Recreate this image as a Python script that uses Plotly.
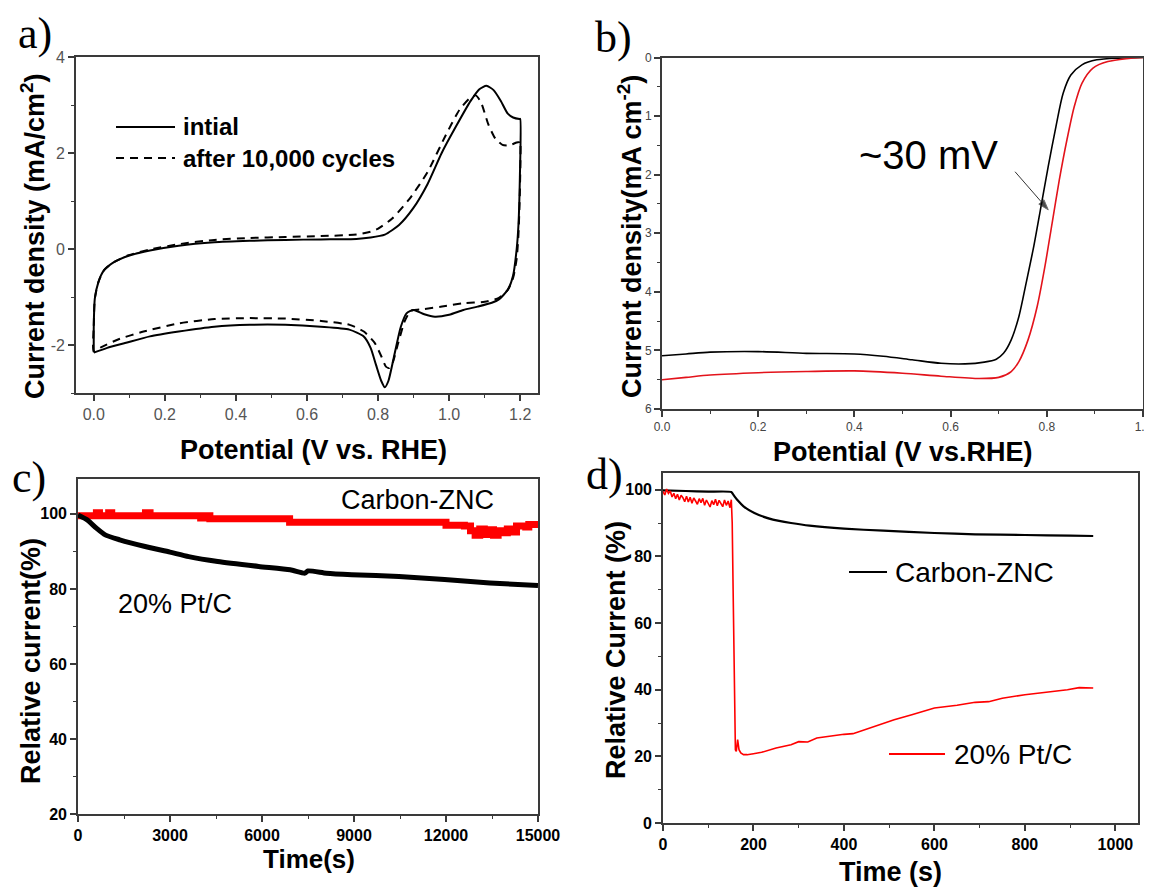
import plotly.graph_objects as go

# ---------------- data ----------------
# panel a: cyclic voltammetry
cv_init_x = [0.0, 0.0, 0.003, 0.013, 0.028, 0.058, 0.098, 0.158, 0.239, 0.339, 0.439, 0.539, 0.639, 0.739,
             0.779, 0.819, 0.859, 0.899, 0.939, 0.979, 1.019, 1.06, 1.085, 1.105, 1.125, 1.145, 1.165, 1.18,
             1.198, 1.2, 1.199, 1.195, 1.19, 1.18, 1.165, 1.14, 1.12, 1.08, 1.04, 1.0, 0.96, 0.93, 0.90, 0.88,
             0.864, 0.844, 0.829, 0.819, 0.809, 0.794, 0.779, 0.759, 0.719, 0.639, 0.539, 0.439, 0.339, 0.239,
             0.158, 0.088, 0.038, 0.0]
cv_init_y = [-2.15, -1.6, -1.03, -0.69, -0.45, -0.27, -0.14, -0.03, 0.07, 0.14, 0.17, 0.19, 0.2, 0.21,
             0.24, 0.3, 0.5, 0.85, 1.35, 2.0, 2.55, 3.08, 3.33, 3.4, 3.31, 3.09, 2.82, 2.74,
             2.71, 2.71, 1.5, 0.5, 0.0, -0.55, -0.85, -1.05, -1.12, -1.2, -1.27, -1.37, -1.41, -1.36, -1.27, -1.34,
             -1.62, -2.27, -2.75, -2.88, -2.75, -2.41, -2.06, -1.82, -1.68, -1.62, -1.58, -1.58, -1.62, -1.72,
             -1.82, -1.96, -2.06, -2.16]
cv_aft_x = [0.0, 0.0, 0.003, 0.013, 0.028, 0.058, 0.098, 0.158, 0.239, 0.339, 0.439, 0.539, 0.639, 0.739,
            0.779, 0.799, 0.839, 0.889, 0.939, 0.989, 1.029, 1.059, 1.075, 1.09, 1.11, 1.13, 1.15, 1.17, 1.19,
            1.198, 1.2, 1.199, 1.195, 1.19, 1.18, 1.165, 1.14, 1.1, 1.04, 0.98, 0.93, 0.90, 0.89, 0.875, 0.855,
            0.842, 0.832, 0.822, 0.81, 0.79, 0.76, 0.72, 0.64, 0.54, 0.44, 0.34, 0.24, 0.14, 0.07, 0.02, 0.0]
cv_aft_y = [-2.13, -1.6, -1.03, -0.69, -0.45, -0.27, -0.13, -0.01, 0.1, 0.19, 0.23, 0.25, 0.27, 0.3,
            0.36, 0.42, 0.63, 1.05, 1.6, 2.35, 2.9, 3.15, 3.2, 3.05, 2.6, 2.3, 2.17, 2.16, 2.22,
            2.23, 2.25, 1.2, 0.3, -0.2, -0.6, -0.85, -1.02, -1.1, -1.13, -1.2, -1.25, -1.27, -1.3, -1.5, -2.0,
            -2.35, -2.48, -2.45, -2.25, -1.95, -1.72, -1.58, -1.5, -1.45, -1.44, -1.46, -1.55, -1.72, -1.88,
            -2.05, -2.13]
cv_ytick_vals = [-2, 0, 2, 4]
cv_ytick_text = ["-2", "0", "2", "4"]

# panel b: linear sweep voltammetry
lsv_black_x = [0.0, 0.05, 0.1, 0.2, 0.3, 0.4, 0.46, 0.52, 0.58, 0.63, 0.67, 0.695, 0.71, 0.726, 0.742,
               0.757, 0.773, 0.788, 0.803, 0.819, 0.834, 0.85, 0.873, 0.904, 0.95, 1.0]
lsv_black_y = [5.09, 5.06, 5.03, 5.02, 5.05, 5.06, 5.10, 5.16, 5.22, 5.23, 5.2, 5.15, 5.05, 4.82, 4.42,
               3.85, 3.22, 2.54, 1.86, 1.18, 0.61, 0.30, 0.125, 0.04, 0.01, 0.0]
lsv_red_x = [0.0, 0.05, 0.1, 0.2, 0.3, 0.4, 0.5, 0.58, 0.66, 0.70, 0.726, 0.742, 0.761, 0.78, 0.796,
             0.811, 0.826, 0.842, 0.857, 0.873, 0.896, 0.927, 0.965, 1.0]
lsv_red_y = [5.5, 5.46, 5.42, 5.38, 5.36, 5.35, 5.39, 5.44, 5.48, 5.46, 5.36, 5.19, 4.82, 4.25, 3.57,
             2.83, 2.09, 1.4, 0.84, 0.44, 0.18, 0.07, 0.02, 0.0]
# arrow of the "~30 mV" note (tail, head)
arrow_x = [0.734, 0.803]
arrow_y = [1.95, 2.6]

# panel c: long-term stability
c_pt_t = [0, 300, 600, 887, 1360, 2190, 3000, 3610, 4555, 5890, 6920, 7400, 7500, 8100, 8930, 10465,
          11950, 13430, 15000]
c_pt_y = [99.7, 98.4, 96.2, 94.4, 93.1, 91.3, 89.8, 88.6, 87.3, 86.0, 85.1, 84.2, 84.8, 84.2, 83.8,
          83.3, 82.5, 81.6, 80.9]
c_znc_t = [0, 600, 700, 1000, 1100, 2200, 2350, 4000, 4150, 4300, 6900, 12000, 12600, 12800, 12950,
           13100, 13250, 13400, 13550, 13700, 13850, 14000, 14150, 14300, 14600, 14700, 15000]
c_znc_y = [99.5, 100.3, 99.5, 100.3, 99.5, 100.3, 99.5, 98.9, 99.5, 98.7, 97.8, 97.0, 96.8, 95.5, 94.3,
           96.0, 94.5, 95.8, 94.3, 95.5, 95.0, 96.0, 95.2, 96.8, 96.5, 97.2, 96.9]

# panel d: methanol tolerance
d_znc_t = [0, 50, 100, 151, 157, 165, 178, 202, 243, 283, 324, 400, 487, 600, 690, 800, 900, 951]
d_znc_y = [99.8, 99.6, 99.4, 99.3, 98.2, 96.8, 95.0, 93.0, 91.0, 90.0, 89.2, 88.3, 87.7, 87.0, 86.6,
           86.4, 86.2, 86.1]
d_pt_t = [0, 4, 8, 12, 16, 20, 24, 28, 32, 36, 40, 44, 48, 52, 56, 60, 64, 68, 72, 76, 80, 84, 88, 92,
          96, 100, 104, 108, 112, 116, 120, 124, 128, 132, 136, 140, 144, 148, 151, 153, 155, 157, 158,
          160, 162, 165, 168, 172, 178, 186, 200, 218, 250, 283, 300, 320, 340, 365, 400, 420, 446, 480,
          511, 550, 600, 650, 690, 720, 750, 800, 850, 894, 920, 951]
d_pt_y = [99.5, 98.4, 100.2, 98.9, 99.6, 97.8, 98.9, 97.3, 98.6, 96.9, 98.3, 97.6, 96.4, 98.0, 96.3,
          97.7, 95.9, 97.5, 96.6, 95.6, 97.3, 96.1, 97.4, 95.3, 96.9, 96.0, 94.8, 96.7, 95.5, 97.1, 95.2,
          96.8, 95.8, 94.9, 96.9, 95.3, 96.6, 94.6, 97.0, 90.0, 70.0, 45.0, 30.0, 22.0, 21.5, 25.0, 22.0,
          21.0, 20.5, 20.5, 20.8, 21.2, 22.5, 23.5, 24.4, 24.3, 25.5, 26.0, 26.6, 26.8, 28.0, 29.5, 31.0,
          32.5, 34.5, 35.3, 36.2, 36.4, 37.4, 38.5, 39.2, 40.0, 40.6, 40.5]

# ---------------- figure ----------------
# page has an 8px body margin: the figure is placed at (8, 8) in the 1152x888 window
OFF = 8
W, H = 1144, 880
SANS = "Liberation Sans, Arial, sans-serif"
SERIF = "Liberation Serif, Times New Roman, serif"
AX = "#3a3a3a"


def fx(p):
    return (p - OFF) / W


def fy(p):
    return 1 - (p - OFF) / H


def px_x(a, b):
    return [fx(a), fx(b)]


def px_y(top, bottom):
    return [fy(bottom), fy(top)]


fig = go.Figure()

# panel a
fig.add_trace(go.Scatter(x=cv_init_x, y=cv_init_y, mode="lines", xaxis="x", yaxis="y",
                         line=dict(color="black", width=2, shape="spline", smoothing=0.6), showlegend=False))
fig.add_trace(go.Scatter(x=cv_aft_x, y=cv_aft_y, mode="lines", xaxis="x", yaxis="y",
                         line=dict(color="black", width=2, dash="8px,6px", shape="spline", smoothing=0.6),
                         showlegend=False))
# panel b
fig.add_trace(go.Scatter(x=lsv_black_x, y=lsv_black_y, mode="lines", xaxis="x2", yaxis="y2",
                         line=dict(color="black", width=1.6, shape="spline", smoothing=0.8), showlegend=False))
fig.add_trace(go.Scatter(x=lsv_red_x, y=lsv_red_y, mode="lines", xaxis="x2", yaxis="y2",
                         line=dict(color="#e3131b", width=1.6, shape="spline", smoothing=0.8), showlegend=False))
fig.add_trace(go.Scatter(x=arrow_x, y=arrow_y, mode="lines+markers", xaxis="x2", yaxis="y2",
                         line=dict(color="#333333", width=1),
                         marker=dict(symbol="arrow", size=[0, 11], angleref="previous", color="black"),
                         showlegend=False))
# panel c
fig.add_trace(go.Scatter(x=c_znc_t, y=c_znc_y, mode="lines", xaxis="x3", yaxis="y3",
                         line=dict(color="#ff0000", width=7, shape="hv"), showlegend=False))
fig.add_trace(go.Scatter(x=c_pt_t, y=c_pt_y, mode="lines", xaxis="x3", yaxis="y3",
                         line=dict(color="black", width=5, shape="spline", smoothing=0.6), showlegend=False))
# panel d
fig.add_trace(go.Scatter(x=d_znc_t, y=d_znc_y, mode="lines", xaxis="x4", yaxis="y4",
                         line=dict(color="black", width=2.2, shape="spline", smoothing=0.5), showlegend=False))
fig.add_trace(go.Scatter(x=d_pt_t, y=d_pt_y, mode="lines", xaxis="x4", yaxis="y4",
                         line=dict(color="#ff0000", width=1.6), showlegend=False))


def axis(domain, rng, dtick, minor_dtick, anchor, tickfont, **kw):
    d = dict(domain=domain, range=rng, dtick=dtick, anchor=anchor, automargin=False,
             showline=True, mirror=True, linecolor=AX, linewidth=1.6,
             ticks="outside", ticklen=6, tickwidth=1.6, tickcolor=AX,
             minor=dict(dtick=minor_dtick, ticks="outside", ticklen=3.5, tickwidth=1.4, tickcolor=AX),
             showgrid=False, zeroline=False, tickfont=tickfont,
             exponentformat="none", separatethousands=False)
    d.update(kw)
    return d


tf_a = dict(family=SANS, size=16, color="#555555")
tf_b = dict(family=SANS, size=12, color="#444444")
tf_cd = dict(family=SANS, size=16, color="black", weight="bold")

fig.update_layout(
    template="none",
    width=W, height=H, margin=dict(l=0, r=0, t=0, b=0, autoexpand=False),
    paper_bgcolor="white", plot_bgcolor="white",
    xaxis=axis(px_x(76, 538), [-0.05, 1.25], 0.2, 0.1, "y", tf_a, tickformat=".1f"),
    yaxis=axis(px_y(57, 393), [-3, 4], 2, 1, "x", tf_a, tickmode="array",
               tickvals=cv_ytick_vals, ticktext=cv_ytick_text,
               minor=dict(tickvals=[-3, -1, 1, 3], ticks="outside", ticklen=3.5, tickwidth=1.4, tickcolor=AX)),
    xaxis2=axis(px_x(662, 1143), [0, 1.0], 0.2, 0.1, "y2", tf_b, tickformat=".1f",
                ticklabeloverflow="allow"),
    yaxis2=axis(px_y(57.5, 409), [6, 0], 1, 0.5, "x2", tf_b),
    xaxis3=axis(px_x(78, 538), [0, 15000], 3000, 1500, "y3", tf_cd, tickformat="d"),
    yaxis3=axis(px_y(479, 814), [20, 109.3], 20, 10, "x3", tf_cd),
    xaxis4=axis(px_x(663, 1138), [0, 1050], 200, 100, "y4", tf_cd, tickformat="d"),
    yaxis4=axis(px_y(473, 823), [0, 105], 20, 10, "x4", tf_cd),
)

# legend-like samples
shapes = [
    dict(type="line", xref="x domain", yref="y domain", x0=0.0866, x1=0.2143, y0=0.7917, y1=0.7917,
         line=dict(color="black", width=2)),
    dict(type="line", xref="x domain", yref="y domain", x0=0.0866, x1=0.2143, y0=0.6994, y1=0.6994,
         line=dict(color="black", width=2, dash="8px,6px")),
    dict(type="line", xref="x4 domain", yref="y4 domain", x0=0.3916, x1=0.4716, y0=0.7171, y1=0.7171,
         line=dict(color="black", width=2)),
    dict(type="line", xref="x4 domain", yref="y4 domain", x0=0.4758, x1=0.5937, y0=0.1971, y1=0.1971,
         line=dict(color="#ff0000", width=2)),
]
fig.update_layout(shapes=shapes)

leg_font = dict(family=SANS, size=24, color="black", weight="bold")
lab_font = dict(family=SANS, size=27, color="black")
title_font = dict(family=SANS, size=27, color="black", weight="bold")
ann = [
    dict(xref="x domain", yref="y domain", x=0.2273, y=0.7917, text="intial", showarrow=False,
         xanchor="left", yanchor="middle", font=leg_font),
    dict(xref="x domain", yref="y domain", x=0.2273, y=0.6994, text="after 10,000 cycles", showarrow=False,
         xanchor="left", yanchor="middle", font=leg_font),
    dict(xref="x2", yref="y2", x=0.555, y=1.66, text="~30 mV", showarrow=False,
         xanchor="center", yanchor="middle", font=dict(family=SANS, size=40, color="black")),
    dict(xref="x3 domain", yref="y3 domain", x=0.737, y=0.9377, text="Carbon-ZNC", showarrow=False,
         xanchor="center", yanchor="middle", font=lab_font),
    dict(xref="x3 domain", yref="y3 domain", x=0.211, y=0.626, text="20% Pt/C", showarrow=False,
         xanchor="center", yanchor="middle", font=lab_font),
    dict(xref="x4 domain", yref="y4 domain", x=0.4842, y=0.7171, text="Carbon-ZNC", showarrow=False,
         xanchor="left", yanchor="middle", font=dict(family=SANS, size=28, color="black")),
    dict(xref="x4 domain", yref="y4 domain", x=0.6084, y=0.1971, text="20% Pt/C", showarrow=False,
         xanchor="left", yanchor="middle", font=dict(family=SANS, size=28, color="black")),
]

# axis titles (page pixel centres)
axis_titles = [
    ("Potential (V vs. RHE)", 313, 450, 0, 27),
    ("Current density (mA/cm<sup>2</sup>)", 33, 236, -90, 27),
    ("Potential (V vs.RHE)", 903, 452, 0, 27),
    ("Current density(mA cm<sup>-2</sup>)", 630, 237, -90, 27),
    ("Time(s)", 309, 859, 0, 26),
    ("Relative current(%)", 31, 661, -90, 27),
    ("Time (s)", 890, 872, 0, 27),
    ("Relative Current (%)", 616, 650, -90, 27),
]
for txt, cx, cy, ang, sz in axis_titles:
    ann.append(dict(xref="paper", yref="paper", x=fx(cx), y=fy(cy), text=txt, showarrow=False,
                    textangle=ang, xanchor="center", yanchor="middle",
                    font=dict(family=SANS, size=sz, color="black", weight="bold")))

panel_font = dict(family=SERIF, size=44, color="black")
for txt, (cx, cy) in zip(["a)", "b)", "c)", "d)"], [(35, 34), (613, 38), (29, 477), (604, 475)]):
    ann.append(dict(xref="paper", yref="paper", x=fx(cx), y=fy(cy), text=txt, showarrow=False,
                    xanchor="center", yanchor="middle", font=panel_font))
fig.update_layout(annotations=ann)

fig.write_html("out.html")
